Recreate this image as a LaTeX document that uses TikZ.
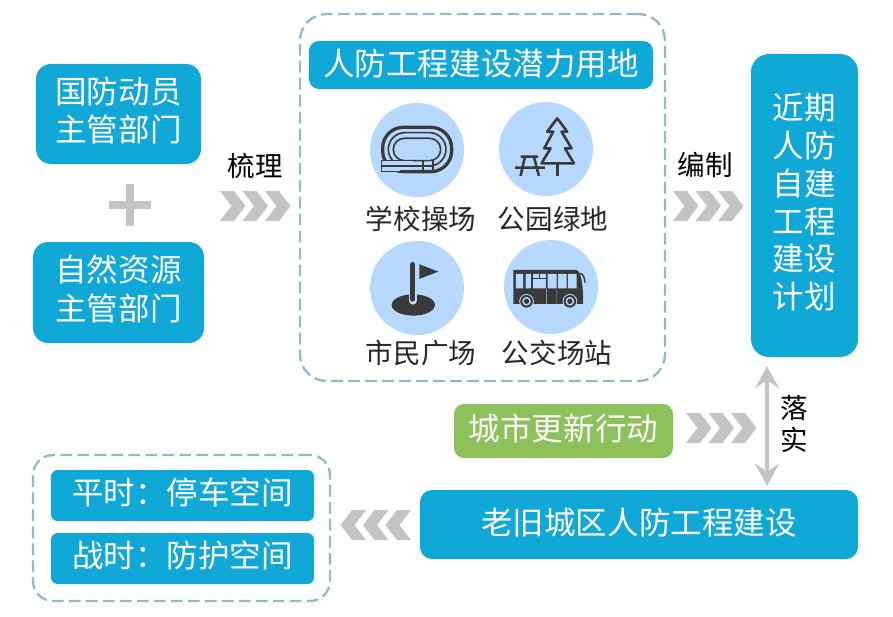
\documentclass[tikz,border=0pt]{standalone}
\usepackage{fontspec}
\usepackage{xcolor}
\setmainfont{Noto Sans CJK SC}
\usetikzlibrary{arrows.meta, positioning}
\definecolor{boxblue}{RGB}{16,168,214}
\definecolor{boxgreen}{RGB}{141,193,91}
\definecolor{dashblue}{RGB}{149,184,202}
\definecolor{chevgray}{RGB}{196,196,196}
\definecolor{circblue}{RGB}{184,217,255}
\definecolor{icondark}{RGB}{58,58,58}
\newcommand{\bigtext}{\fontsize{26.9}{33}\selectfont}
\newcommand{\midtext}{\fontsize{23.5}{28}\selectfont}
\tikzset{
	bluebox/.style={fill=boxblue, text=white, inner sep=0pt, align=center, font=\bigtext},
	dashbox/.style={draw=dashblue, dashed, dash pattern=on 10pt off 4.5pt, line width=2pt},
	iconcircle/.style={circle, fill=circblue, inner sep=0pt, minimum size=2.82cm},
	iconlabel/.style={inner sep=0pt, text=black!85, font=\midtext},
	sidelabel/.style={inner sep=0pt, text=black, font=\midtext},
	iconline/.style={draw=icondark, line width=2.2pt, line join=round},
	pics/chevrons/.style={code={
		\foreach \i in {0,22.5,45}
			\fill[chevgray, shift={(\i,0)}] (0,-15) -- (14,-15) -- (25.5,0) -- (14,15) -- (0,15) -- (11.5,0) -- cycle;
	}},
}
\begin{document}
\begin{tikzpicture}[x=0.03cm, y=-0.03cm]
	\useasboundingbox (0,0) rectangle (893,617);
	% left column
	\node[bluebox, text depth=8pt, rounded corners=0.45cm, minimum width=4.95cm, minimum height=3cm] (defence) at (118.5,114) {国防动员\\主管部门};
	\node[bluebox, text depth=8pt, rounded corners=0.45cm, minimum width=5.13cm, minimum height=3.03cm] (nature) at (118.5,292.5) {自然资源\\主管部门};
	\draw[chevgray, line width=0.24cm] (109,205) -- (151,205);
	\draw[chevgray, line width=0.24cm] (130,184) -- (130,226);
	\node[sidelabel] (sort) at (255,166) {梳理};
	\pic at (220,206) {chevrons};
	% land box
	\node[dashbox, rounded corners=0.8cm, minimum width=10.95cm, minimum height=11.01cm] (land) at (482.5,197.5) {};
	\node[bluebox, text depth=5pt, rounded corners=0.3cm, minimum width=10.32cm, minimum height=1.44cm] (title) at (481,65) {人防工程建设潜力用地};
	\node[iconcircle] (track) at (417,150) {};
	\node[iconcircle] (park) at (546,149) {};
	\node[iconcircle] (square) at (417,288) {};
	\node[iconcircle] (bus) at (551,287) {};
	\node[iconlabel] (tracklabel) at (421,219) {学校操场};
	\node[iconlabel] (parklabel) at (553,219) {公园绿地};
	\node[iconlabel] (squarelabel) at (421,353) {市民广场};
	\node[iconlabel] (buslabel) at (557,353) {公交场站};
	% track icon
	\begin{scope}[shift={(350,90)}, x=0.01cm, y=-0.01cm]
		\draw[iconline, line width=2.8pt, rounded corners=0.62cm] (98,112) rectangle (305,245);
		\draw[iconline, line width=1.4pt, rounded corners=0.5cm] (115,128) rectangle (288,228);
		\draw[iconline, line width=1.4pt, rounded corners=0.33cm] (130,145) rectangle (272,212);
		\fill[circblue] (92,212) rectangle (190,246);
		\draw[iconline, line width=1.4pt] (95,212) -- (145,212) (95,212) rectangle (250,245) (95,228) -- (250,228) (220,212) -- (220,245);
		\draw[iconline, line width=2.8pt] (150,245) -- (250,245);
	\end{scope}
	% tree icon
	\begin{scope}[shift={(350,90)}, x=0.01cm, y=-0.01cm]
		\draw[iconline] (622,85) -- (652,125) -- (635,125) -- (665,175) -- (645,175) -- (672,220) -- (575,220) -- (602,175) -- (583,175) -- (610,125) -- (592,125) -- cycle;
		\draw[iconline] (622,220) -- (622,258);
		\draw[iconline] (512,200) -- (565,200) (495,233) -- (585,233) (525,200) -- (512,258) (552,200) -- (567,258);
	\end{scope}
	% flag icon
	\begin{scope}[shift={(350,230)}, x=0.01cm, y=-0.01cm]
		\fill[icondark] (190,225) ellipse (65 and 32);
		\draw[circblue, line width=0.24cm, line cap=round] (188,170) -- (188,212);
		\draw[icondark, line width=0.14cm, line cap=round] (188,103) -- (188,208);
		\fill[icondark] (208,103) -- (265,125) -- (208,147) -- cycle;
	\end{scope}
	% bus icon
	\begin{scope}[shift={(350,230)}, x=0.01cm, y=-0.01cm]
		\fill[icondark] (490,120) -- (680,120) .. controls (695,125) and (700,170) .. (700,222) -- (490,222) -- cycle;
		\fill[circblue] (498,132) rectangle (520,175) (527,132) rectangle (543,175) (550,132) rectangle (588,175) (593,132) rectangle (620,175) (624,132) rectangle (650,175) (654,132) rectangle (680,175);
		\draw[icondark, line width=0.8pt] (550,145) -- (588,145) (568,132) -- (568,145);
		\fill[circblue, opacity=0.6] (589,176) rectangle (591,222) (620,176) rectangle (622,222);
		\draw[icondark, line width=1.2pt] (690,130) .. controls (702,132) and (704,145) .. (705,158);
		\foreach \wx in {530,660} {
			\fill[circblue] (\wx,214) circle (22);
			\fill[icondark] (\wx,214) circle (19);
			\fill[circblue] (\wx,214) circle (13);
			\fill[icondark] (\wx,214) circle (8);
		}
	\end{scope}
	% right column
	\node[bluebox, text depth=8pt, rounded corners=0.54cm, minimum width=3.21cm, minimum height=9.09cm, font=\fontsize{26.9}{32.4}\selectfont] (plan) at (804.5,205.5) {近期\\人防\\自建\\工程\\建设\\计划};
	\node[sidelabel] (compile) at (705,165) {编制};
	\pic at (673,206) {chevrons};
	% lower part
	\node[fill=boxgreen, text=white, inner sep=0pt, font=\bigtext, text depth=6.5pt, rounded corners=0.3cm, minimum width=6.57cm, minimum height=1.62cm] (renewal) at (563.5,431) {城市更新行动};
	\pic at (686,428) {chevrons};
	\node[bluebox, text depth=5pt, rounded corners=0.36cm, minimum width=13.14cm, minimum height=2.07cm] (build) at (639,524.5) {老旧城区人防工程建设};
	\coordinate (arrowx) at (767,0);
	\draw[chevgray, line width=0.12cm, {Stealth[length=0.66cm, width=0.72cm, inset=0.24cm]}-{Stealth[length=0.66cm, width=0.72cm, inset=0.24cm]}, shorten <=0.27cm, shorten >=0.12cm] (arrowx |- plan.south) -- (arrowx |- build.north);
	\node[sidelabel] (act1) at (794,408) {落};
	\node[sidelabel] (act2) at (794,440) {实};
	\pic[xscale=-1] at (411,525) {chevrons};
	\node[dashbox, rounded corners=0.6cm, minimum width=8.91cm, minimum height=4.38cm] (uses) at (181.5,528) {};
	\node[bluebox, text depth=8pt, rounded corners=0.2cm, minimum width=7.89cm, minimum height=1.53cm] (peace) at (182.5,495.5) {平时：停车空间};
	\node[bluebox, text depth=8pt, rounded corners=0.2cm, minimum width=7.89cm, minimum height=1.53cm] (war) at (182.5,558.5) {战时：防护空间};
\end{tikzpicture}
\end{document}
